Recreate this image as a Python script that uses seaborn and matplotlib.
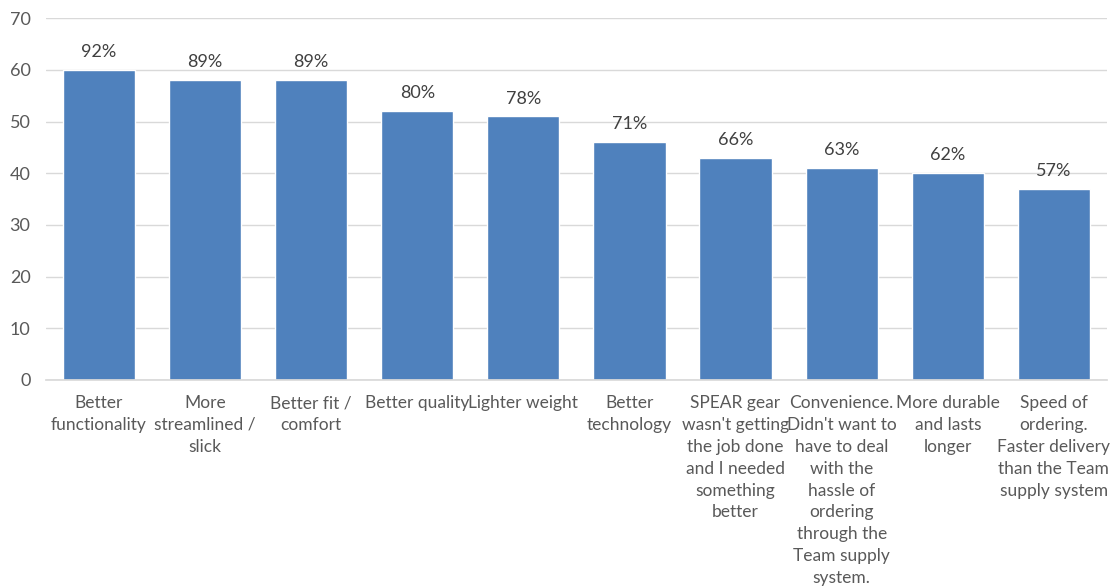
import matplotlib
matplotlib.use("Agg")
import matplotlib.pyplot as plt
import seaborn as sns
import pandas as pd

categories = [
    "Better\nfunctionality",
    "More\nstreamlined /\nslick",
    "Better fit /\ncomfort",
    "Better quality",
    "Lighter weight",
    "Better\ntechnology",
    "SPEAR gear\nwasn't getting\nthe job done\nand I needed\nsomething\nbetter",
    "Convenience.\nDidn't want to\nhave to deal\nwith the\nhassle of\nordering\nthrough the\nTeam supply\nsystem.",
    "More durable\nand lasts\nlonger",
    "Speed of\nordering.\nFaster delivery\nthan the Team\nsupply system",
]
counts = [60, 58, 58, 52, 51, 46, 43, 41, 40, 37]
percent_labels = ["92%", "89%", "89%", "80%", "78%", "71%", "66%", "63%", "62%", "57%"]
yticks = [0, 10, 20, 30, 40, 50, 60, 70]

sns.set_theme(style="white")
plt.rcParams['font.family'] = ['Lato', 'DejaVu Sans']

df = pd.DataFrame({"category": categories, "count": counts})

fig = plt.figure(figsize=(11.17, 5.88), dpi=100)
ax = fig.add_axes([0.041, 0.354, 0.95, 0.615])

sns.barplot(data=df, x="category", y="count", color="#4F81BD", saturation=1,
            width=0.68, ax=ax)

text_color = "#595959"
ax.bar_label(ax.containers[0], labels=percent_labels, padding=7,
             fontsize=13, color="#404040")

ax.set_ylim(0, 70)
ax.set_yticks(yticks)
ax.set_xlim(-0.5, len(categories) - 0.5)
ax.yaxis.grid(True, color="#D9D9D9", linewidth=1)
ax.set_axisbelow(True)
for s in ["top", "right", "left"]:
    ax.spines[s].set_visible(False)
ax.spines["bottom"].set_color("#D9D9D9")
ax.set_xlabel("")
ax.set_ylabel("")
ax.tick_params(axis="y", length=0, colors=text_color, labelsize=13, pad=11)
ax.tick_params(axis="x", length=0, colors=text_color, labelsize=12.5, pad=11)
for lbl in ax.get_xticklabels():
    lbl.set_linespacing(1.45)
    lbl.set_ha("center")
    lbl.set_va("top")

fig.savefig("out.png", dpi=100)
